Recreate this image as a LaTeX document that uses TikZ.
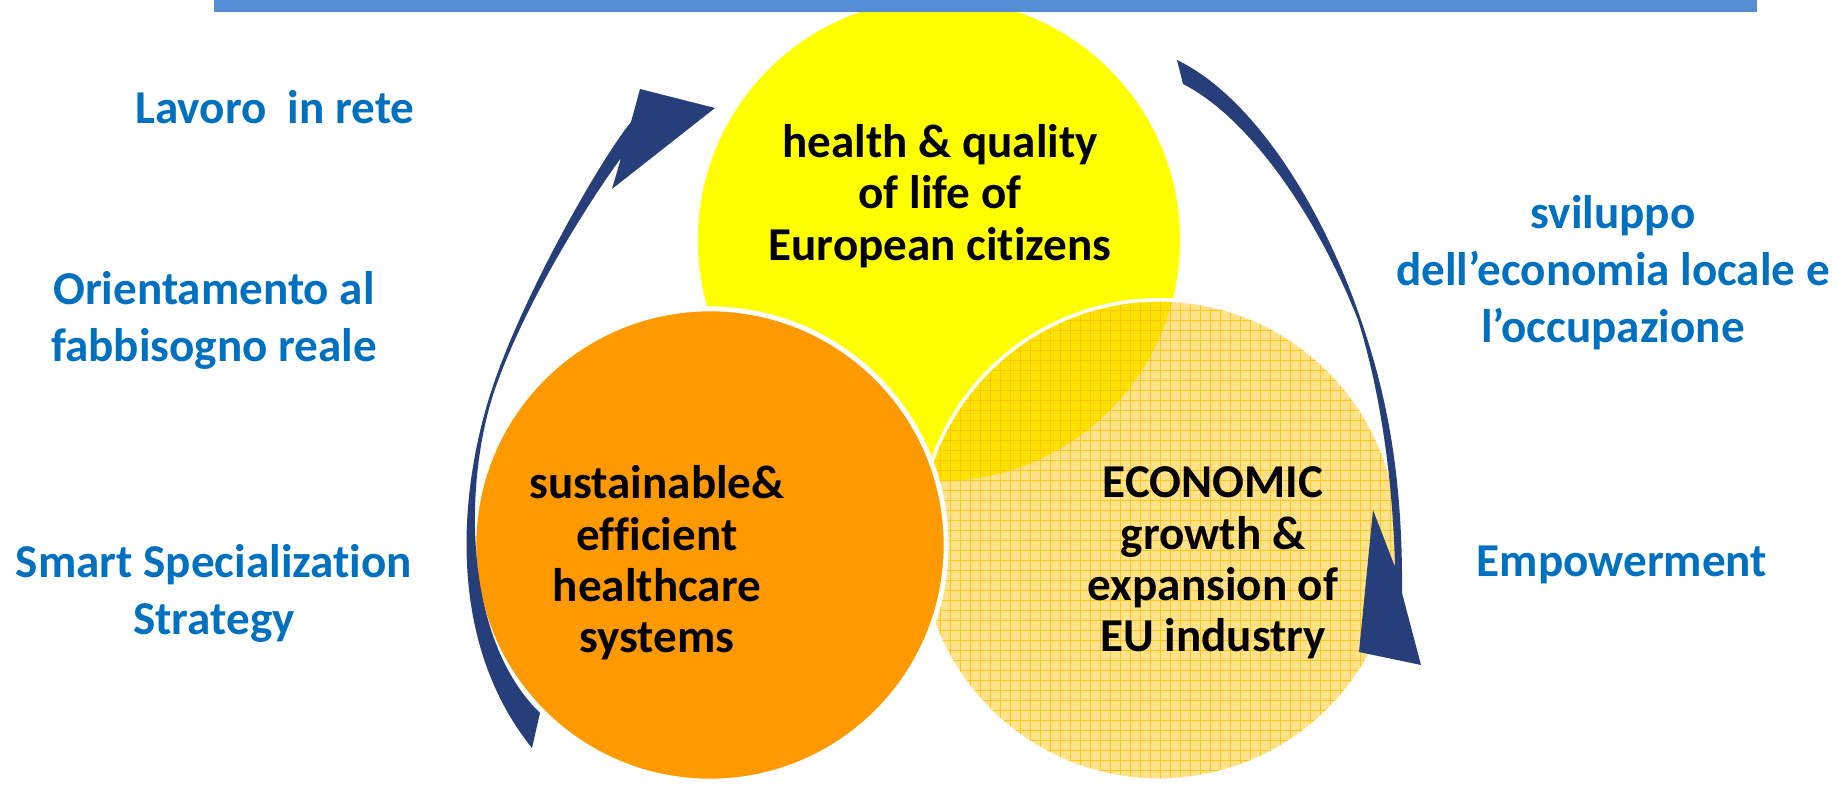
\documentclass[tikz,border=0pt]{standalone}
\usepackage{fontspec}
\setmainfont{Carlito}[Ligatures={NoCommon}]
\definecolor{barblue}{RGB}{85,142,213}
\definecolor{labelblue}{RGB}{0,112,192}
\definecolor{citizenyellow}{RGB}{255,255,0}
\definecolor{careorange}{RGB}{255,153,0}
\definecolor{growthgold}{RGB}{255,192,0}
\definecolor{arrownavy}{RGB}{38,62,122}
\tikzset{bluelabel/.style = {text=labelblue, font=\bfseries\fontsize{13.4}{16.2}\selectfont, align=center}}
\tikzset{circlelabel/.style = {text=black, font=\bfseries\fontsize{13.4}{14.6}\selectfont, align=center}}
\tikzset{bigarrow/.style = {fill=arrownavy}}

\begin{document}
\begin{tikzpicture}[x=0.01cm, y=-0.01cm]
    \useasboundingbox (0,0) rectangle (1838,788);
    \fill[white] (0,0) rectangle (1838,788);

    % the three circles
    \fill[citizenyellow] (939,240) circle [radius=2.41cm];
    \fill[growthgold, fill opacity=0.45] (1159,540) circle [radius=2.4cm];
    \begin{scope}
        \clip (1159,540) circle [radius=2.4cm];
        \draw[growthgold, line width=0.25pt, opacity=0.8, step=0.1cm] (900,280) grid (1420,800);
    \end{scope}
    \draw[white, line width=1pt] (1159,540) circle [radius=2.4cm];
    \fill[careorange, draw=white, line width=1.4pt] (710,545) circle [radius=2.36cm];

    \node[circlelabel] (citizens) at (940,196) {health \& quality\\of life of\\European citizens};
    \node[circlelabel] (care) at (657,563) {sustainable\&\\efficient\\healthcare\\systems};
    \node[circlelabel] (growth) at (1213,563) {ECONOMIC\\growth \&\\expansion of\\EU industry};

    % curved arrows
    \fill[bigarrow] (631,122) .. controls (600,160) and (520,300) .. (490,395)
        .. controls (460,490) and (445,640) .. (532,748)
        -- (540,713)
        .. controls (465,640) and (463,490) .. (493,395)
        .. controls (523,305) and (590,200) .. (621,158)
        -- (612,189) -- (715,108) -- (640,89) -- cycle;
    \fill[bigarrow] (1177,60) .. controls (1250,95) and (1320,200) .. (1361,320)
        .. controls (1385,390) and (1403,470) .. (1402,593)
        -- (1421,665) -- (1359,652) -- (1373,510) -- (1395,567)
        .. controls (1393,480) and (1380,390) .. (1358,320)
        .. controls (1318,218) and (1250,118) .. (1183,84) -- cycle;

    \node[bluelabel] (rete) at (275,107) {Lavoro\ \ in rete};
    \node[bluelabel] (need) at (214,320) {Orientamento al\\fabbisogno reale};
    \node[bluelabel] (s3) at (214,593) {Smart Specialization\\Strategy};
    \node[bluelabel] (local) at (1613,273) {sviluppo\\dell’economia locale e\\l’occupazione};
    \node[bluelabel] (power) at (1622,565) {Empowerment};

    \fill[barblue] (214,0) rectangle (1757,12);
\end{tikzpicture}
\end{document}
